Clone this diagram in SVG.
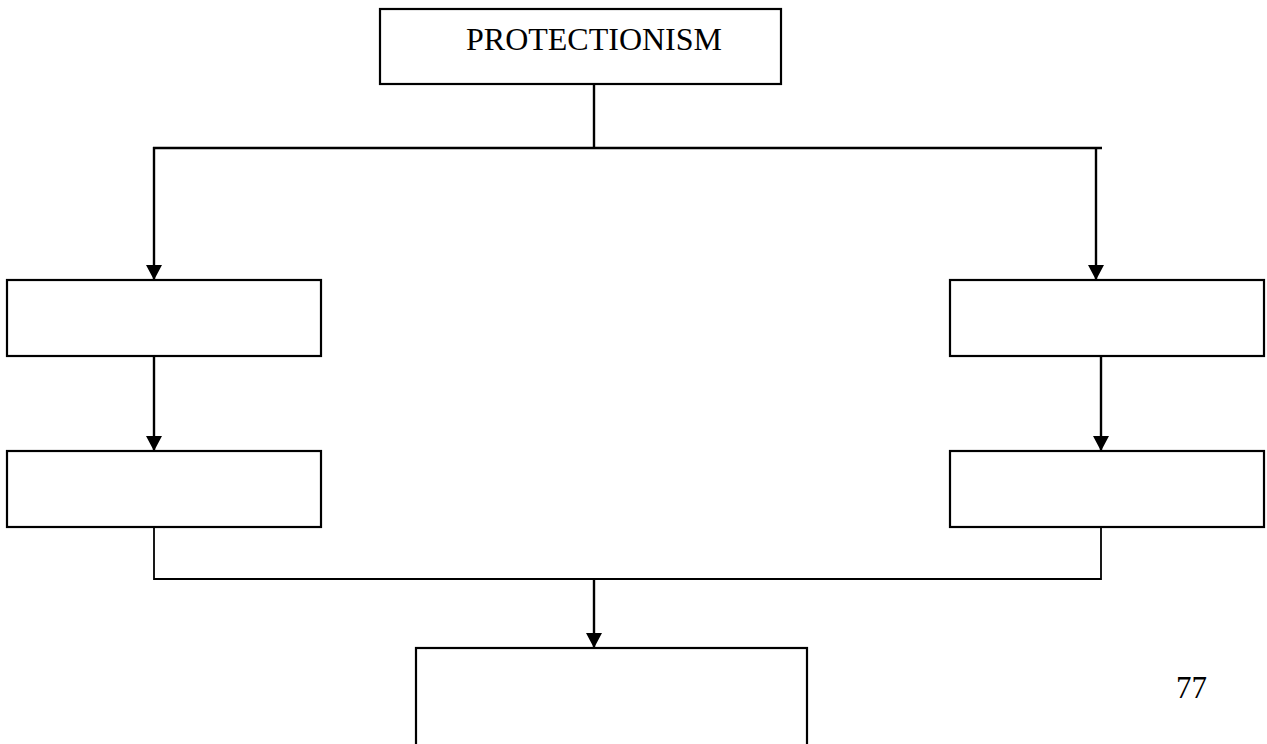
<svg xmlns="http://www.w3.org/2000/svg" width="1267" height="744" viewBox="0 0 1267 744">
  <style>
    .box { fill: #ffffff; stroke: #000000; stroke-width: 2.2; }
    .line { fill: none; stroke: #000000; stroke-width: 2.4; }
    .thin { fill: none; stroke: #000000; stroke-width: 1.8; }
    .txt { font-family: "Liberation Serif", "Times New Roman", serif; fill: #000000; }
  </style>
  <defs>
    <marker id="arrow" markerUnits="userSpaceOnUse" markerWidth="16" markerHeight="16" refX="15" refY="8" orient="auto">
      <path d="M0,0 L15,8 L0,16 Z" fill="#000000"/>
    </marker>
  </defs>
  <rect width="1267" height="744" fill="#ffffff"/>

  <g id="connectors">
    <line class="line" x1="594" y1="84" x2="594" y2="148"/>
    <line class="line" x1="153" y1="148" x2="1102" y2="148"/>
    <line class="line" x1="154" y1="147" x2="154" y2="280" marker-end="url(#arrow)"/>
    <line class="line" x1="1096" y1="147" x2="1096" y2="280" marker-end="url(#arrow)"/>
    <line class="line" x1="154" y1="356" x2="154" y2="451" marker-end="url(#arrow)"/>
    <line class="line" x1="1101" y1="356" x2="1101" y2="451" marker-end="url(#arrow)"/>
    <polyline class="thin" points="154,527 154,579 1101,579 1101,527"/>
    <line class="line" x1="594" y1="579" x2="594" y2="648" marker-end="url(#arrow)"/>
  </g>

  <g id="protectionism">
    <rect class="box" x="380" y="9" width="401" height="75"/>
    <text class="txt" x="466" y="50" font-size="32">PROTECTIONISM</text>
  </g>
  <g id="left1">
    <rect class="box" x="7" y="280" width="314" height="76"/>
  </g>
  <g id="right1">
    <rect class="box" x="950" y="280" width="314" height="76"/>
  </g>
  <g id="left2">
    <rect class="box" x="7" y="451" width="314" height="76"/>
  </g>
  <g id="right2">
    <rect class="box" x="950" y="451" width="314" height="76"/>
  </g>
  <g id="bottom">
    <rect class="box" x="416" y="648" width="391" height="110"/>
  </g>
  <g id="pagenum">
    <text class="txt" x="1176" y="698" font-size="31">77</text>
  </g>
</svg>
